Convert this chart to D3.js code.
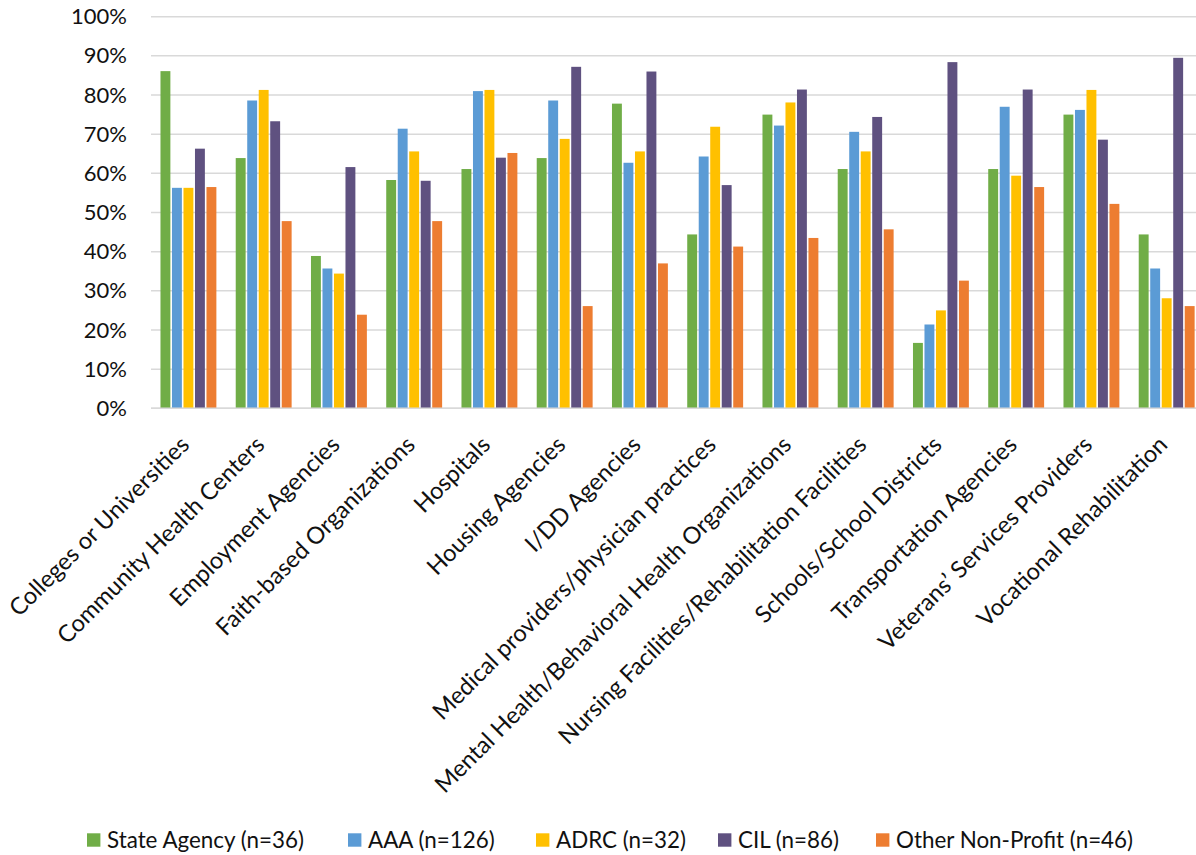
<!DOCTYPE html>
<html>
<head>
<meta charset="utf-8">
<script src="https://cdn.jsdelivr.net/npm/d3@7"></script>
<style>
  html, body { margin: 0; padding: 0; background: #fff; }
  svg { display: block; font-family: Lato, "Open Sans", sans-serif; }
</style>
</head>
<body>
<svg id="chart" width="1196" height="855"></svg>
<script>
// Partner types (x-axis categories)
const categories = [
  "Colleges or Universities",
  "Community Health Centers",
  "Employment Agencies",
  "Faith-based Organizations",
  "Hospitals",
  "Housing Agencies",
  "I/DD Agencies",
  "Medical providers/physician practices",
  "Mental Health/Behavioral Health Organizations",
  "Nursing Facilities/Rehabilitation Facilities",
  "Schools/School Districts",
  "Transportation Agencies",
  "Veterans\u2019 Services Providers",
  "Vocational Rehabilitation"
];

// Respondent groups
const seriesNames = [
  "State Agency (n=36)",
  "AAA (n=126)",
  "ADRC (n=32)",
  "CIL (n=86)",
  "Other Non-Profit (n=46)"
];

// Share of respondents in each group reporting the partnership (%)
const stateAgency    = [86.1, 63.9, 38.9, 58.3, 61.1, 63.9, 77.8, 44.4, 75.0, 61.1, 16.7, 61.1, 75.0, 44.4];
const aaa            = [56.3, 78.6, 35.7, 71.4, 81.0, 78.6, 62.7, 64.3, 72.2, 70.6, 21.4, 77.0, 76.2, 35.7];
const adrc           = [56.3, 81.3, 34.4, 65.6, 81.3, 68.8, 65.6, 71.9, 78.1, 65.6, 25.0, 59.4, 81.3, 28.1];
const cil            = [66.3, 73.3, 61.6, 58.1, 64.0, 87.2, 86.0, 57.0, 81.4, 74.4, 88.4, 81.4, 68.6, 89.5];
const otherNonProfit = [56.5, 47.8, 23.9, 47.8, 65.2, 26.1, 37.0, 41.3, 43.5, 45.7, 32.6, 56.5, 52.2, 26.1];

const yTicks = [0, 10, 20, 30, 40, 50, 60, 70, 80, 90, 100];

const seriesValues = [stateAgency, aaa, adrc, cil, otherNonProfit];
const colors = ["#70AD47", "#5B9BD5", "#FFC000", "#5F5180", "#ED7D31"];

const svg = d3.select("#chart");
const plot = { left: 151, right: 1204.5, top: 16.7, bottom: 408.3 };

const x0 = d3.scaleBand().domain(categories).range([plot.left, plot.right]).padding(0);
const groupWidth = 57.5;
const x1 = d3.scaleBand().domain(d3.range(seriesNames.length)).range([0, groupWidth]).padding(0);
const y = d3.scaleLinear().domain([0, 100]).range([plot.bottom, plot.top]);

// Horizontal gridlines
svg.append("g")
  .selectAll("line")
  .data(yTicks)
  .join("line")
  .attr("x1", plot.left).attr("x2", 1196)
  .attr("y1", d => y(d)).attr("y2", d => y(d))
  .attr("stroke", "#d9d9d9").attr("stroke-width", 1.5);

// Y-axis labels
const yAxis = d3.axisLeft(y).tickValues(yTicks).tickFormat(d => d + "%").tickSize(0).tickPadding(0);
svg.append("g")
  .attr("transform", `translate(127,0)`)
  .call(yAxis)
  .call(g => g.select(".domain").remove())
  .call(g => g.selectAll("text")
    .attr("font-family", "Lato, sans-serif")
    .attr("font-size", 22)
    .attr("fill", "#111"));

// Bars
const groups = svg.append("g")
  .selectAll("g")
  .data(categories)
  .join("g")
  .attr("transform", d => `translate(${x0(d) + (x0.bandwidth() - groupWidth) / 2},0)`);

groups.selectAll("rect")
  .data((d, i) => seriesValues.map((vals, s) => ({ s, v: vals[i] })))
  .join("rect")
  .attr("x", d => x1(d.s) + 0.6)
  .attr("width", x1.bandwidth() - 1.6)
  .attr("y", d => y(d.v))
  .attr("height", d => y(0) - y(d.v))
  .attr("fill", d => colors[d.s]);

// Baseline
svg.append("line")
  .attr("x1", plot.left).attr("x2", 1196)
  .attr("y1", y(0)).attr("y2", y(0))
  .attr("stroke", "#d9d9d9").attr("stroke-width", 1.5);

// Rotated category labels
const xAxis = d3.axisBottom(x0).tickSize(0).tickPadding(0);
svg.append("g")
  .attr("transform", `translate(0,${plot.bottom})`)
  .call(xAxis)
  .call(g => g.select(".domain").remove())
  .call(g => g.selectAll("text")
    .attr("font-family", "Lato, sans-serif")
    .attr("font-size", 23.6)
    .attr("fill", "#111")
    .attr("text-anchor", "end")
    .attr("dy", null)
    .attr("y", null)
    .attr("transform", "translate(2,38) rotate(-45)"));

// Legend: one swatch + label per series, laid out in a single row
const legendX = [87, 348, 536, 718, 876];
const legend = svg.append("g").attr("transform", "translate(0,840)");
seriesNames.forEach((name, i) => {
  const item = legend.append("g").attr("transform", `translate(${legendX[i]},0)`);
  item.append("rect")
    .attr("x", 0).attr("y", -6.7)
    .attr("width", 13.4).attr("height", 13.4)
    .attr("fill", colors[i]);
  item.append("text")
    .attr("x", 20).attr("y", 0)
    .attr("dy", "0.35em")
    .attr("font-family", "Lato, sans-serif")
    .attr("font-size", 22.4)
    .attr("fill", "#111")
    .text(name);
});
</script>
</body>
</html>
